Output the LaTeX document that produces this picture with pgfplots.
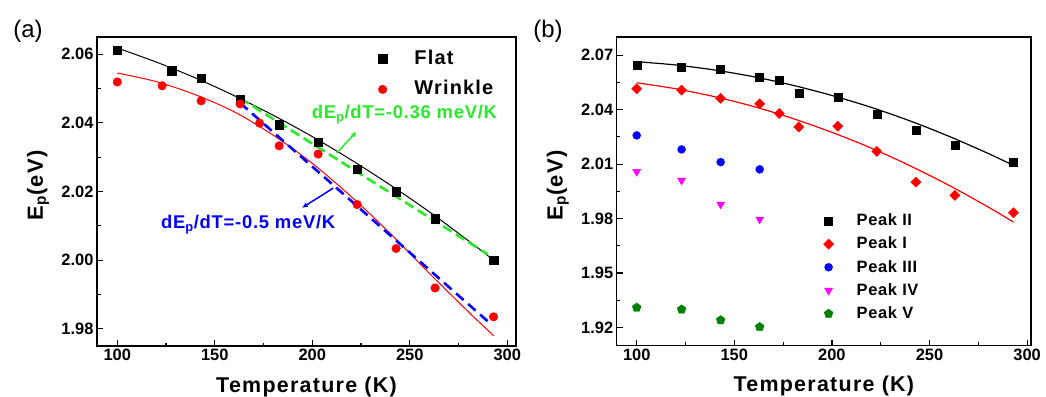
\documentclass[border=0pt]{standalone}
\usepackage{pgfplots}
\pgfplotsset{compat=1.18}
\usepackage{fontspec}
\setmainfont{Liberation Sans}
\newfontfamily\widesix[LetterSpace=6]{Liberation Sans}
\newfontfamily\widefour[LetterSpace=4]{Liberation Sans}
\usetikzlibrary{plotmarks,arrows.meta}
\definecolor{lgreen}{RGB}{40,235,40}
\definecolor{dgreen}{RGB}{0,128,0}
\definecolor{mblue}{RGB}{0,0,255}
\definecolor{mred}{RGB}{255,0,0}
\definecolor{mmag}{RGB}{255,0,255}
\pgfplotsset{
  myaxis/.style={
    scale only axis,
    axis line style={line width=1.3bp},
    tick pos=left, tick align=inside,
    major tick length=6bp, minor tick length=3.5bp,
    every tick/.style={black, line width=1.2bp},
    minor x tick num=1, minor y tick num=1,
    /pgf/number format/assume math mode=true,
    ticklabel style={font=\bfseries\fontsize{16.5}{16.5}\selectfont},
    yticklabel style={/pgf/number format/.cd, fixed, fixed zerofill, precision=2},
    xlabel style={font=\widesix\bfseries\fontsize{21.5}{21.5}\selectfont, at={([yshift=-46bp]axis description cs:0.5,0)}, anchor=base},
    ylabel style={font=\widesix\bfseries\fontsize{22}{22}\selectfont, at={([xshift=-59bp,yshift=6bp]axis description cs:0,0.5)}, anchor=center},
    xlabel={Temperature (K)},
    ylabel={E\textsubscript{p}(eV)},
    xtick={100,150,200,250,300},
    legend cell align=left,
  }
}
\begin{document}
\begin{tikzpicture}
\useasboundingbox (0,0) rectangle (1046bp,397bp);
\node[font=\fontsize{24}{24}\selectfont] at (28bp,366bp) {(a)};
\node[font=\fontsize{24}{24}\selectfont] at (548bp,366bp) {(b)};

% ---------------- panel (a) ----------------
\begin{axis}[myaxis,
  at={(97bp,51bp)}, anchor=south west,
  width=419bp, height=309bp,
  xmin=89.6, xmax=304.5, ymin=1.975, ymax=2.065,
  ytick={1.98,2.00,2.02,2.04,2.06},
  legend style={at={(axis cs:233.8,2.0615)}, anchor=north west, draw=none, fill=none,
    font=\widesix\bfseries\fontsize{20}{20}\selectfont, inner sep=0pt, row sep=11.7bp,
    nodes={inner sep=0pt, text height=15bp, text depth=4bp},
    /tikz/every odd column/.append style={column sep=27.5bp}},
]
\addplot[only marks, mark=square*, mark size=4.3bp, black] coordinates {
(100,2.0612) (128,2.0552) (143,2.0530) (163,2.0469) (183,2.0394) (203,2.0344) (223,2.0265) (243,2.0200) (263,2.0121) (293,2.0000)};
\addlegendentry{Flat}
\addplot[only marks, mark=*, mark size=4.3bp, mred] coordinates {
(100,2.0519) (123,2.0508) (143,2.0464) (163,2.0455) (173,2.0399) (183,2.0333) (203,2.0309) (223,2.0162) (243,2.0034) (263,1.9919) (293,1.9835)};
\addlegendentry{Wrinkle}
\addplot[black, line width=1bp, smooth, forget plot] coordinates {
(100,2.0618) (120,2.0577) (140,2.0531) (160,2.0479) (180,2.0422) (200,2.0360) (220,2.0292) (240,2.0219) (260,2.0141) (280,2.0057) (293,2.0000)};
\addplot[mred, line width=1bp, smooth, forget plot] coordinates {
(100,2.0545) (120,2.0520) (140,2.0482) (160,2.0432) (180,2.0364) (200,2.0282) (220,2.0185) (240,2.0078) (260,1.9962) (280,1.9850) (293,1.9780)};
\addplot[lgreen, line width=2.6bp, dash pattern=on 10bp off 5bp, forget plot] coordinates {
(163,2.0472) (290,2.0017)};
\addplot[mblue, line width=2.6bp, dash pattern=on 10bp off 6bp, forget plot] coordinates {
(163,2.0458) (290,1.9822)};
\draw[lgreen, line width=1.5bp, -{Latex[length=6bp,width=5bp]}] (axis cs:212.5,2.0312) -- (axis cs:222.8,2.0375);
\draw[mblue, line width=1.5bp, -{Latex[length=6bp,width=5bp]}] (axis cs:210.8,2.0210) -- (axis cs:194.6,2.0152);
\node[anchor=west, text=lgreen, font=\widefour\bfseries\fontsize{18.5}{18.5}\selectfont, inner sep=0pt] at (axis cs:199.7,2.0423) {dE\textsubscript{p}/dT=-0.36 meV/K};
\node[anchor=west, text=mblue, font=\widefour\bfseries\fontsize{18.5}{18.5}\selectfont, inner sep=0pt] at (axis cs:122.4,2.0103) {dE\textsubscript{p}/dT=-0.5 meV/K};
\end{axis}

% ---------------- panel (b) ----------------
\begin{axis}[myaxis,
  at={(616.7bp,51.3bp)}, anchor=south west,
  width=414.3bp, height=308.7bp,
  xmin=89.75, xmax=302, ymin=1.91, ymax=2.08,
  ytick={1.92,1.95,1.98,2.01,2.04,2.07},
  legend style={at={(axis cs:195.6,1.9834)}, anchor=north west, draw=none, fill=none,
    font=\widefour\bfseries\fontsize{16.5}{16.5}\selectfont, inner sep=0pt, row sep=6.7bp,
    nodes={inner sep=0pt, text height=13bp, text depth=3.5bp},
    /tikz/every odd column/.append style={column sep=23bp}},
]
\addplot[only marks, mark=square*, mark size=4bp, black] coordinates {
(100,2.0643) (123,2.0634) (143,2.0625) (163,2.0581) (173,2.0562) (183,2.0493) (203,2.0471) (223,2.0374) (243,2.0286) (263,2.0203) (293,2.0113)};
\addlegendentry{Peak II}
\addplot[only marks, mark=square*, mark size=3.6bp, mark options={rotate=45}, mred] coordinates {
(100,2.0515) (123,2.0507) (143,2.0462) (163,2.0432) (173,2.0379) (183,2.0304) (203,2.0309) (223,2.0170) (243,2.0001) (263,1.9928) (293,1.9832)};
\addlegendentry{Peak I}
\addplot[only marks, mark=*, mark size=4bp, mblue] coordinates {
(100,2.0258) (123,2.0181) (143,2.0111) (163,2.0071)};
\addlegendentry{Peak III}
\addplot[only marks, mark=triangle*, mark size=4.6bp, mark options={rotate=180}, mmag] coordinates {
(100,2.0058) (123,2.0010) (143,1.9878) (163,1.9796)};
\addlegendentry{Peak IV}
\addplot[only marks, mark=pentagon*, mark size=4.6bp, dgreen] coordinates {
(100,1.9310) (123,1.9300) (143,1.9241) (163,1.9203)};
\addlegendentry{Peak V}
\addplot[black, line width=1.2bp, smooth, forget plot] coordinates {
(100,2.0664) (120,2.0646) (140,2.0618) (160,2.0581) (180,2.0534) (200,2.0478) (220,2.0413) (240,2.0338) (260,2.0253) (280,2.0159) (293,2.0093)};
\addplot[mred, line width=1.2bp, smooth, forget plot] coordinates {
(100,2.0548) (120,2.0515) (140,2.0471) (160,2.0417) (180,2.0351) (200,2.0275) (220,2.0189) (240,2.0091) (260,1.9983) (280,1.9864) (293,1.9781)};
\end{axis}
\end{tikzpicture}
\end{document}
